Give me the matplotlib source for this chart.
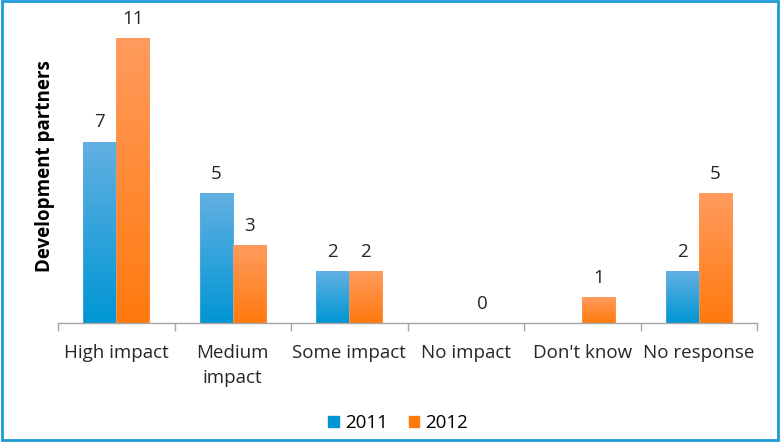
import numpy as np
import matplotlib.pyplot as plt
from matplotlib.patches import Rectangle
from matplotlib.colors import LinearSegmentedColormap

plt.rcParams['font.family'] = ['Open Sans', 'DejaVu Sans']

# survey answers per category
categories = ['High impact', 'Medium\nimpact', 'Some impact', 'No impact', "Don't know", 'No response']
y2011 = [7, 5, 2, np.nan, np.nan, 2]
y2012 = [11, 3, 2, 0, 1, 5]
years = ['2011', '2012']

# gradient ends (top, bottom) for each series
blue = ('#63b0e2', '#0096d4')
orange = ('#ff9b5e', '#ff7a0e')

fig = plt.figure(figsize=(7.81, 4.42), dpi=100)
ax = fig.add_axes([58 / 781, 119 / 442, 699 / 781, 311 / 442])

x = np.arange(len(categories))
w = 0.285


def grad_bars(xs, vals, cols, offset):
    cmap = LinearSegmentedColormap.from_list('g', [cols[1], cols[0]])
    grad = np.linspace(0, 1, 256).reshape(-1, 1)
    for xi, v in zip(xs, vals):
        if np.isnan(v) or v == 0:
            continue
        left = xi + offset - w / 2
        im = ax.imshow(grad, cmap=cmap, origin='lower', aspect='auto',
                       extent=[left, left + w, 0, v], zorder=2)
        clip = Rectangle((left, 0), w, v, transform=ax.transData)
        im.set_clip_path(clip)
        ax.add_patch(Rectangle((left, 0), w, v, fill=False,
                               edgecolor=cols[0], lw=0.6, alpha=0.6, zorder=3))


grad_bars(x, y2011, blue, -w / 2)
grad_bars(x, y2012, orange, w / 2)

# value labels above bars
for xs, vals in ((x - w / 2, y2011), (x + w / 2, y2012)):
    for xi, v in zip(xs, vals):
        if np.isnan(v):
            continue
        ax.text(xi, v + 0.4, f'{v:g}', ha='center', va='bottom',
                fontsize=13.5, color='#262626')

ax.set_xlim(-0.5, len(categories) - 0.5)
ax.set_ylim(0, 12)
ax.set_xticks(x)
ax.set_xticklabels(categories, fontsize=13.5, color='#262626', linespacing=1.5)
ax.set_xticks(np.arange(len(categories) + 1) - 0.5, minor=True)
ax.tick_params(axis='x', which='major', length=0, pad=15)
ax.tick_params(axis='x', which='minor', length=6, color='#a6a6a6', width=1)
ax.set_yticks([])
for side in ('top', 'right', 'left'):
    ax.spines[side].set_visible(False)
ax.spines['bottom'].set_color('#a6a6a6')
ax.spines['bottom'].set_linewidth(1)

fig.text(45 / 781, 1 - 166 / 442, 'Development partners', rotation=90,
         ha='center', va='center', fontsize=13.5, fontweight='bold')

# legend
handles = [Rectangle((0, 0), 1, 1, color=blue[1]), Rectangle((0, 0), 1, 1, color=orange[1])]
fig.legend(handles, years, loc='center', bbox_to_anchor=(0.51, 1 - 423 / 442),
           ncol=2, frameon=False, fontsize=13.5, handlelength=0.55, handleheight=0.55,
           handletextpad=0.35, columnspacing=1.1)

# frame round the whole chart
fig.add_artist(Rectangle((0.002, 0.004), 0.994, 0.993, transform=fig.transFigure,
                         fill=False, edgecolor='#1f9ad6', lw=2))

fig.savefig('out.png', dpi=100)
